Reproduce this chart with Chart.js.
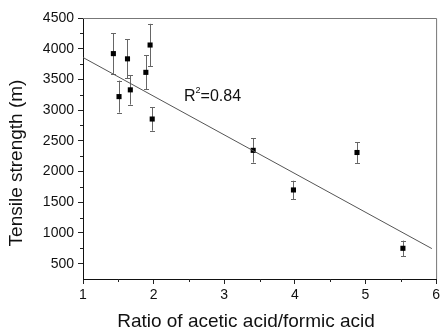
<!DOCTYPE html>
<html>
<head>
<meta charset="utf-8">
<script src="https://cdn.jsdelivr.net/npm/chart.js@4/dist/chart.umd.min.js"></script>
<style>
  html, body { margin: 0; padding: 0; background: #fff; }
  #wrap { width: 443px; height: 329px; }
</style>
</head>
<body>
<div id="wrap"><canvas id="c" width="443" height="329"></canvas></div>
<script>
// Acetic/formic acid ratio vs. tensile strength, with standard deviations
const ratio    = [1.43, 1.51, 1.63, 1.67, 1.89, 1.95, 1.98, 3.41, 3.98, 4.88, 5.53];
const strength = [3920, 3220, 3835, 3330, 3615, 4060, 2855, 2345, 1700, 2310, 750];
const stdDev   = [330, 260, 320, 240, 275, 345, 190, 200, 150, 170, 125];

// Linear fit, end points
const fitX = [1, 5.94];
const fitY = [3857, 745];

const xTicks = [1, 2, 3, 4, 5, 6];
const yTicks = [500, 1000, 1500, 2000, 2500, 3000, 3500, 4000, 4500];
const xMinorTicks = [1.5, 2.5, 3.5, 4.5, 5.5];
const yMinorTicks = [750, 1250, 1750, 2250, 2750, 3250, 3750, 4250];

const xTitle = 'Ratio of acetic acid/formic acid';
const yTitle = 'Tensile strength (m)';
const r2Label = { x: 2.43, y: 3215, value: '0.84' };

const FONT = '"Liberation Sans", Arial, sans-serif';

const extras = {
  id: 'extras',
  beforeDatasetsDraw(chart) {
    const ctx = chart.ctx;
    const xs = chart.scales.x, ys = chart.scales.y;
    const a = chart.chartArea;
    ctx.save();
    // frame: top and right sides
    ctx.strokeStyle = '#777';
    ctx.lineWidth = 1;
    ctx.beginPath();
    ctx.moveTo(a.left, a.top + 0.5);
    ctx.lineTo(a.right + 0.5, a.top + 0.5);
    ctx.lineTo(a.right + 0.5, a.bottom);
    ctx.stroke();
    // minor ticks
    ctx.strokeStyle = '#222';
    ctx.beginPath();
    xMinorTicks.forEach(v => {
      const px = Math.round(xs.getPixelForValue(v)) + 0.5;
      ctx.moveTo(px, a.bottom);
      ctx.lineTo(px, a.bottom + 3);
    });
    yMinorTicks.forEach(v => {
      const py = Math.round(ys.getPixelForValue(v)) + 0.5;
      ctx.moveTo(a.left, py);
      ctx.lineTo(a.left - 3, py);
    });
    ctx.stroke();
    // error bars
    ctx.strokeStyle = '#666';
    ctx.beginPath();
    ratio.forEach((x, i) => {
      const px = Math.round(xs.getPixelForValue(x)) + 0.5;
      const top = ys.getPixelForValue(strength[i] + stdDev[i]);
      const bot = ys.getPixelForValue(strength[i] - stdDev[i]);
      ctx.moveTo(px, top); ctx.lineTo(px, bot);
      ctx.moveTo(px - 2.5, Math.round(top) + 0.5); ctx.lineTo(px + 2.5, Math.round(top) + 0.5);
      ctx.moveTo(px - 2.5, Math.round(bot) + 0.5); ctx.lineTo(px + 2.5, Math.round(bot) + 0.5);
    });
    ctx.stroke();
    ctx.restore();
  },
  afterDraw(chart) {
    const ctx = chart.ctx;
    const xs = chart.scales.x, ys = chart.scales.y;
    ctx.save();
    ctx.fillStyle = '#111';
    ctx.textBaseline = 'middle';
    ctx.textAlign = 'left';
    // R² annotation
    let px = xs.getPixelForValue(r2Label.x);
    const py = ys.getPixelForValue(r2Label.y);
    ctx.font = '16px ' + FONT;
    ctx.fillText('R', px, py);
    px += ctx.measureText('R').width;
    ctx.font = '9px ' + FONT;
    ctx.fillText('2', px, py - 6);
    px += ctx.measureText('2').width;
    ctx.font = '16px ' + FONT;
    ctx.fillText('=' + r2Label.value, px, py);
    // axis titles
    ctx.font = '19px ' + FONT;
    ctx.textAlign = 'center';
    ctx.fillText(xTitle, 246, 322);
    ctx.translate(17, 163);
    ctx.rotate(-Math.PI / 2);
    ctx.fillText(yTitle, 0, 0);
    ctx.restore();
  }
};

new Chart(document.getElementById('c'), {
  type: 'scatter',
  data: {
    datasets: [
      {
        label: 'fit',
        data: fitX.map((x, i) => ({ x, y: fitY[i] })),
        showLine: true,
        borderColor: '#555',
        borderWidth: 1,
        pointRadius: 0,
        fill: false
      },
      {
        label: 'tensile strength',
        data: ratio.map((x, i) => ({ x, y: strength[i] })),
        pointStyle: 'rect',
        pointRadius: 3.6,
        backgroundColor: '#000',
        borderColor: '#000',
        borderWidth: 0
      }
    ]
  },
  options: {
    responsive: false,
    animation: false,
    devicePixelRatio: 1,
    layout: { padding: { top: 18, right: 3, left: 0, bottom: 0 } },
    plugins: { legend: { display: false }, tooltip: { enabled: false } },
    scales: {
      x: {
        type: 'linear',
        min: 1, max: 6,
        afterBuildTicks: s => { s.ticks = xTicks.map(v => ({ value: v })); },
        afterFit: s => { s.height = 50; },
        grid: { display: true, drawOnChartArea: false, drawTicks: true, tickLength: 5, color: '#222' },
        border: { display: true, color: '#111', width: 1 },
        ticks: { color: '#111', font: { family: FONT, size: 14 }, padding: 3, maxRotation: 0,
                 callback: v => String(v) }
      },
      y: {
        type: 'linear',
        min: 250, max: 4500,
        afterBuildTicks: s => { s.ticks = yTicks.map(v => ({ value: v })); },
        afterFit: s => { s.width = 83; },
        grid: { display: true, drawOnChartArea: false, drawTicks: true, tickLength: 5, color: '#222' },
        border: { display: true, color: '#111', width: 1 },
        ticks: { color: '#111', font: { family: FONT, size: 14 }, padding: 4,
                 callback: v => String(v) }
      }
    }
  },
  plugins: [extras]
});
</script>
</body>
</html>
